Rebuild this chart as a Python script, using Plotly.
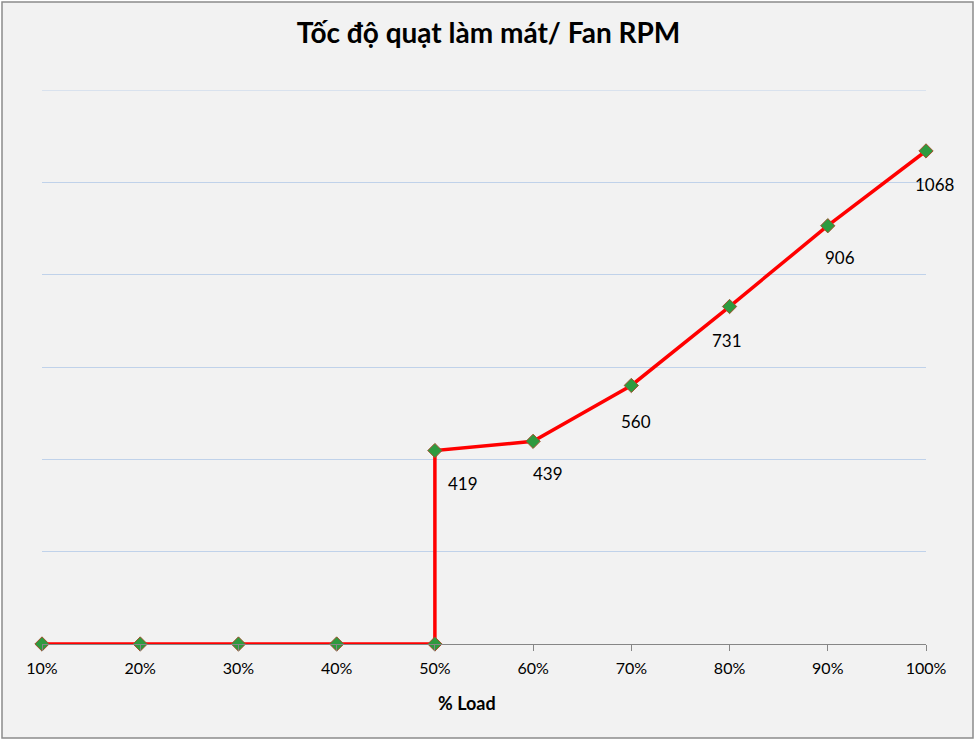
import plotly.graph_objects as go

load_pct = [10, 20, 30, 40, 50, 50, 60, 70, 80, 90, 100]
rpm = [0, 0, 0, 0, 0, 419, 439, 560, 731, 906, 1068]
tick_vals = [10, 20, 30, 40, 50, 60, 70, 80, 90, 100]
tick_text = ["10%", "20%", "30%", "40%", "50%", "60%", "70%", "80%", "90%", "100%"]
grid_vals = [0, 200, 400, 600, 800, 1000, 1200]
title_text = "Tốc độ quạt làm mát/ Fan RPM"
x_title = "% Load"

# label pixel offsets (style only) for the non-zero points, in order
label_dx = [28, 15, 5, -3, 12, 9]
label_dy = [-33, -32, -36, -34, -32, -34]

FONT = "Lato, Liberation Sans, sans-serif"
GRID = "#c0d2ea"
W, H = 977, 741
ml, mr, mt, mb = 42, 51, 90, 97
pw, ph = W - ml - mr, H - mt - mb

fig = go.Figure()
fig.add_trace(go.Scatter(
    x=load_pct, y=rpm, mode="lines+markers",
    line=dict(color="#ff0000", width=3.5),
    marker=dict(symbol="diamond", size=11, color="#2e9a3f",
                line=dict(color="#a0522d", width=1)),
    cliponaxis=False, showlegend=False, hoverinfo="x+y",
))

i = 0
for xv, yv in zip(load_pct, rpm):
    if yv > 0:
        fig.add_annotation(x=xv, y=yv, text=str(yv), showarrow=False,
                           xshift=label_dx[i], yshift=label_dy[i],
                           font=dict(family=FONT, size=17, color="#000000"))
        i += 1

fig.add_annotation(xref="paper", yref="paper", x=(467 - ml) / pw, y=-(703 - mt - ph) / ph,
                   xanchor="center", yanchor="middle",
                   text="<b>" + x_title + "</b>", showarrow=False,
                   font=dict(family=FONT, size=18, color="#000000"))

fig.add_shape(type="rect", xref="paper", yref="paper",
              x0=-(ml - 2) / pw, x1=1 + (mr - 4) / pw,
              y0=-(mb - 3) / ph, y1=1 + (mt - 2) / ph,
              fillcolor="#f2f2f2", line=dict(color="#8c8c8c", width=1.5), layer="below")

# top gridline (plotly omits gridlines lying on the range edge)
fig.add_shape(type="line", xref="paper", yref="y", x0=0, x1=1,
              y0=grid_vals[-1], y1=grid_vals[-1],
              line=dict(color=GRID, width=1), layer="below")

fig.update_layout(
    width=W, height=H,
    margin=dict(l=ml, r=mr, t=mt, b=mb),
    paper_bgcolor="#ffffff", plot_bgcolor="#f2f2f2",
    title=dict(text="<b>" + title_text + "</b>", x=0.5, xanchor="center",
               y=1 - 33 / H, yanchor="middle",
               font=dict(family=FONT, size=28, color="#000000")),
    xaxis=dict(range=[10, 100], tickvals=tick_vals, ticktext=tick_text,
               showgrid=False, zeroline=False, showline=True, linecolor="#868686", linewidth=1,
               ticks="outside", ticklen=6, tickcolor="#868686", ticklabelstandoff=4,
               tickfont=dict(family=FONT, size=16, color="#000000")),
    yaxis=dict(range=[grid_vals[0], grid_vals[-1]], tickvals=grid_vals,
               showgrid=True, gridcolor=GRID, gridwidth=1,
               zeroline=False, showline=False, showticklabels=False, ticks=""),
)

fig.write_html("out.html")
